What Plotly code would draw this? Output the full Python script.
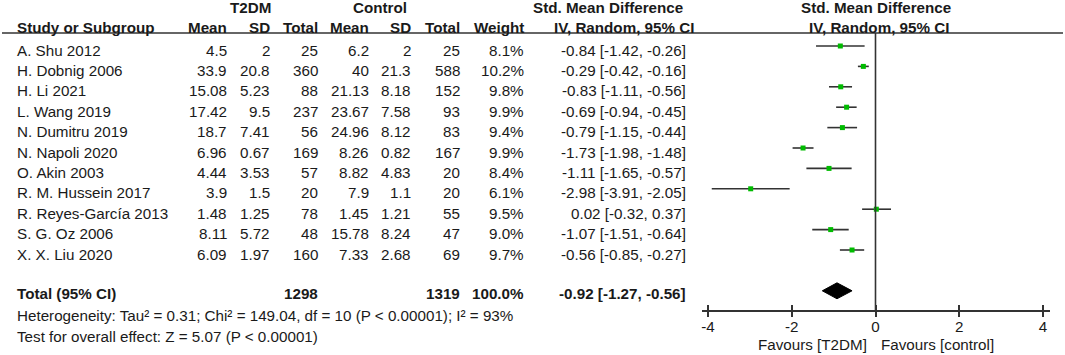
import plotly.graph_objects as go

W, H = 1065, 355

studies = ["A. Shu 2012", "H. Dobnig 2006", "H. Li 2021", "L. Wang 2019", "N. Dumitru 2019",
           "N. Napoli 2020", "O. Akin 2003", "R. M. Hussein 2017", "R. Reyes-García 2013",
           "S. G. Oz 2006", "X. X. Liu 2020"]
t2dm_mean = ["4.5", "33.9", "15.08", "17.42", "18.7", "6.96", "4.44", "3.9", "1.48", "8.11", "6.09"]
t2dm_sd = ["2", "20.8", "5.23", "9.5", "7.41", "0.67", "3.53", "1.5", "1.25", "5.72", "1.97"]
t2dm_total = [25, 360, 88, 237, 56, 169, 57, 20, 78, 48, 160]
ctrl_mean = ["6.2", "40", "21.13", "23.67", "24.96", "8.26", "8.82", "7.9", "1.45", "15.78", "7.33"]
ctrl_sd = ["2", "21.3", "8.18", "7.58", "8.12", "0.82", "4.83", "1.1", "1.21", "8.24", "2.68"]
ctrl_total = [25, 588, 152, 93, 83, 167, 20, 20, 55, 47, 69]
weight = ["8.1%", "10.2%", "9.8%", "9.9%", "9.4%", "9.9%", "8.4%", "6.1%", "9.5%", "9.0%", "9.7%"]
smd = [-0.84, -0.29, -0.83, -0.69, -0.79, -1.73, -1.11, -2.98, 0.02, -1.07, -0.56]
lo = [-1.42, -0.42, -1.11, -0.94, -1.15, -1.98, -1.65, -3.91, -0.32, -1.51, -0.85]
hi = [-0.26, -0.16, -0.56, -0.45, -0.44, -1.48, -0.57, -2.05, 0.37, -0.64, -0.27]
total_t2dm, total_ctrl, total_weight = 1298, 1319, "100.0%"
pooled, pooled_lo, pooled_hi = -0.92, -1.27, -0.56
hetero = "Heterogeneity: Tau² = 0.31; Chi² = 149.04, df = 10 (P < 0.00001); I² = 93%"
overall = "Test for overall effect: Z = 5.07 (P < 0.00001)"
xticks = [-4, -2, 0, 2, 4]

FONT = "Liberation Sans, Arial, sans-serif"
FS = 15.2
TXT = "#1a1a1a"
LINE = "#333333"

def px(x):
    return x / W

def py(y):
    return 1 - y / H

fig = go.Figure()

n = len(studies)
rows = list(range(n))
total_row = 12

for i in rows:
    fig.add_trace(go.Scatter(x=[lo[i], hi[i]], y=[i, i], mode="lines",
                             line=dict(color=LINE, width=1.6), hoverinfo="skip", showlegend=False))
fig.add_trace(go.Scatter(x=smd, y=rows, mode="markers",
                         marker=dict(symbol="square", size=5, color="#00bb00"),
                         showlegend=False, hoverinfo="skip"))
fig.add_trace(go.Scatter(x=[pooled_lo, pooled, pooled_hi, pooled, pooled_lo],
                         y=[total_row, total_row - 0.39, total_row, total_row + 0.39, total_row],
                         mode="lines", fill="toself", fillcolor="black",
                         line=dict(color="black", width=1), showlegend=False, hoverinfo="skip"))

y_bot_px, y_top_px = 310, 33
def idx(p):
    return (p - 46) / 20.4

fig.update_layout(
    width=W, height=H, margin=dict(l=0, r=0, t=0, b=0),
    paper_bgcolor="white", plot_bgcolor="white",
    font=dict(family=FONT, size=FS, color=TXT),
    xaxis=dict(domain=[702 / W, 1050 / W], range=[-4.143, 4.167], tickvals=xticks,
               ticktext=[str(v) for v in xticks], showgrid=False, zeroline=False,
               showline=True, linecolor=LINE, linewidth=1.6, ticks="outside", ticklen=5,
               tickwidth=1.6, tickcolor=LINE, tickfont=dict(size=FS, color=TXT),
               ticklabelstandoff=-3, fixedrange=True),
    xaxis2=dict(overlaying="x", anchor="y", range=[-4.143, 4.167], tickvals=xticks,
                showticklabels=False, showgrid=False, zeroline=False, showline=False,
                ticks="inside", ticklen=5, tickwidth=1.6, tickcolor=LINE, side="bottom",
                matches="x"),
    yaxis=dict(domain=[1 - y_bot_px / H, 1 - y_top_px / H], range=[idx(y_bot_px), idx(y_top_px)],
               visible=False, fixedrange=True),
)
fig.add_trace(go.Scatter(x=[0], y=[None], xaxis="x2", yaxis="y", showlegend=False, hoverinfo="skip"))

fig.add_shape(type="line", x0=0, x1=0, xref="x", y0=0, y1=1, yref="y domain",
              line=dict(color=LINE, width=1.6))
fig.add_shape(type="line", x0=px(2), x1=px(1063), xref="paper", y0=py(33), y1=py(33), yref="paper",
              line=dict(color=LINE, width=1.6))

def ann(text, x, y, anchor="left", bold=False):
    fig.add_annotation(text=f"<b>{text}</b>" if bold else text, x=px(x), y=py(y),
                       xref="paper", yref="paper", xanchor=anchor, yanchor="middle",
                       showarrow=False, font=dict(family=FONT, size=FS, color=TXT))

ann("T2DM", 250, 8, "center", True)
ann("Control", 380, 8, "center", True)
ann("Std. Mean Difference", 608, 8, "center", True)
ann("Std. Mean Difference", 876, 8, "center", True)
hy = 27
ann("Study or Subgroup", 15, hy, "left", True)
ann("Mean", 229, hy, "right", True)
ann("SD", 272, hy, "right", True)
ann("Total", 320, hy, "right", True)
ann("Mean", 371, hy, "right", True)
ann("SD", 413, hy, "right", True)
ann("Total", 462, hy, "right", True)
ann("Weight", 526, hy, "right", True)
ann("IV, Random, 95% CI", 624, hy, "center", True)
ann("IV, Random, 95% CI", 879, hy, "center", True)

for i in rows:
    y = 50 + 20.4 * i
    ann(studies[i], 15, y)
    ann(t2dm_mean[i], 229, y, "right")
    ann(t2dm_sd[i], 272, y, "right")
    ann(str(t2dm_total[i]), 320, y, "right")
    ann(ctrl_mean[i], 371, y, "right")
    ann(ctrl_sd[i], 413, y, "right")
    ann(str(ctrl_total[i]), 462, y, "right")
    ann(weight[i], 526, y, "right")
    ann(f"{smd[i]:.2f} [{lo[i]:.2f}, {hi[i]:.2f}]", 688, y, "right")

ty = 293
ann("Total (95% CI)", 15, ty, "left", True)
ann(str(total_t2dm), 320, ty, "right", True)
ann(str(total_ctrl), 462, ty, "right", True)
ann(total_weight, 526, ty, "right", True)
ann(f"{pooled:.2f} [{pooled_lo:.2f}, {pooled_hi:.2f}]", 688, ty, "right", True)
ann(hetero, 15, 315)
ann(overall, 15, 336)
ann("Favours [T2DM]", 869, 344, "right")
ann("Favours [control]", 879, 344, "left")

fig.write_html("out.html", config={"displayModeBar": False},
               post_script="document.body.style.margin='0px';")
